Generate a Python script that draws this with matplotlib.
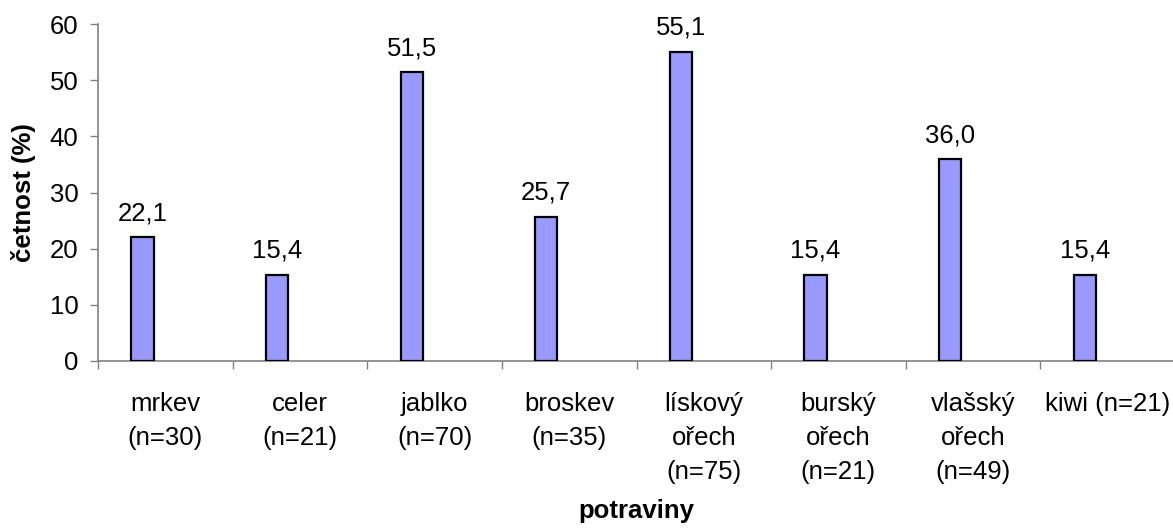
import matplotlib.pyplot as plt
import numpy as np

plt.rcParams['font.family'] = ['Liberation Sans', 'DejaVu Sans']

# data
categories = ["mrkev\n(n=30)", "celer\n(n=21)", "jablko\n(n=70)", "broskev\n(n=35)",
              "lískový\nořech\n(n=75)", "burský\nořech\n(n=21)", "vlašský\nořech\n(n=49)",
              "kiwi (n=21)"]
values = [22.1, 15.4, 51.5, 25.7, 55.1, 15.4, 36.0, 15.4]
y_ticks = [0, 10, 20, 30, 40, 50, 60]

FS = 18.5

fig = plt.figure(figsize=(11.73, 5.28), dpi=100)
ax = fig.add_axes([98 / 1173, 1 - 361 / 528, 1077 / 1173, 337 / 528])

x = np.arange(len(values))
bar_w = 0.165
offset = -0.17
ax.bar(x + offset, values, width=bar_w, color="#9999FF",
       edgecolor="black", linewidth=1.6, zorder=3)

for xi, v in zip(x, values):
    ax.annotate(f"{v:.1f}".replace(".", ","), (xi + offset, v),
                xytext=(0, 12), textcoords="offset points",
                ha="center", va="baseline", fontsize=FS)

ax.set_xlim(-0.5, len(values) - 0.5)
ax.set_ylim(0, 60)
ax.set_yticks(y_ticks)
ax.tick_params(axis="y", labelsize=FS, length=6, width=1, color="#808080",
               direction="out", pad=8)

ax.set_xticks(x)
ax.set_xticklabels(categories, fontsize=FS, linespacing=1.53, va="top")
ax.tick_params(axis="x", which="major", length=0, pad=22)
ax.set_xticks(np.arange(len(values)) - 0.5, minor=True)
ax.tick_params(axis="x", which="minor", length=6, width=1, color="#808080", direction="out")

for side in ["top", "right"]:
    ax.spines[side].set_visible(False)
for side in ["left", "bottom"]:
    ax.spines[side].set_color("#808080")
    ax.spines[side].set_linewidth(1.2)

ax.set_xlabel("potraviny", fontsize=FS, fontweight="bold", labelpad=11)
ax.set_ylabel("četnost (%)", fontsize=FS, fontweight="bold", labelpad=10)

fig.savefig("out.png", dpi=100)
